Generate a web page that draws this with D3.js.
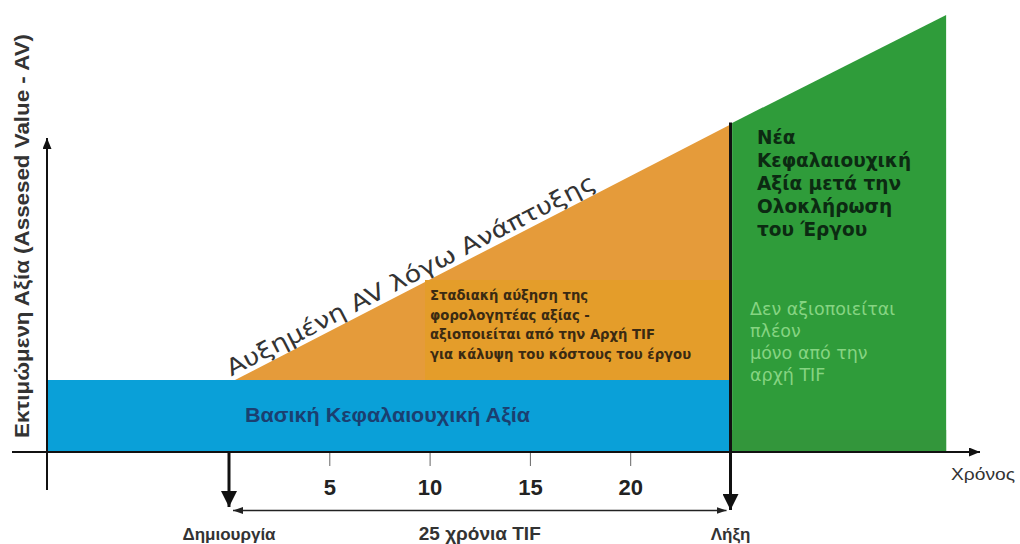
<!DOCTYPE html>
<html>
<head>
<meta charset="utf-8">
<script src="https://cdn.jsdelivr.net/npm/d3@7"></script>
<style>
	body { margin: 0; background: #fff; }
	svg { display: block; }
</style>
</head>
<body>
<script>
// --- data ---
// TIF period: creation (year 0) to expiry (year 25)
var tifYears = [0, 25];
var tickYears = [5, 10, 15, 20];
// base assessed value (frozen during TIF)
var baseYears = [-9.07, 25];
var baseValue = 20;
// increment during TIF
var growthYears = [0.3, 25];
var growthValues = [20, 91];
// new assessed value after the project ends
var afterYears = [25.08, 35.75];
var afterValues = [91.4, 121.4];

// texts
var yTitle = "Εκτιμώμενη Αξία (Assesed Value - AV)";
var xTitle = "Χρόνος";
var slopeLabel = "Αυξημένη AV λόγω Ανάπτυξης";
var baseLabel = "Βασική Κεφαλαιουχική Αξία";
var growthLines = ["Σταδιακή αύξηση της", "φορολογητέας αξίας -", "αξιοποιείται από την Αρχή TIF", "για κάλυψη του κόστους του έργου"];
var afterTitleLines = ["Νέα", "Κεφαλαιουχική", "Αξία μετά την", "Ολοκλήρωση", "του Έργου"];
var afterNoteLines = ["Δεν αξιοποιείται", "πλέον", "μόνο από την", "αρχή TIF"];
var startLabel = "Δημιουργία";
var endLabel = "Λήξη";
var spanLabel = "25 χρόνια TIF";

var width = 1020, height = 544;

var x = d3.scaleLinear().domain([0, 25]).range([229, 730.5]);
var y = d3.scaleLinear().domain([0, 100]).range([452, 92]);

var svg = d3.select("body").append("svg")
	.attr("width", width)
	.attr("height", height);

// arrow heads
var defs = svg.append("defs");
function marker(id, w, h, color){
	defs.append("marker")
		.attr("id", id)
		.attr("markerUnits", "userSpaceOnUse")
		.attr("viewBox", "0 0 " + w + " " + h)
		.attr("refX", w)
		.attr("refY", h / 2)
		.attr("markerWidth", w)
		.attr("markerHeight", h)
		.attr("orient", "auto-start-reverse")
		.append("path")
		.attr("d", "M0,0L" + w + "," + (h / 2) + "L0," + h + "Z")
		.attr("fill", color);
}
marker("axisHead", 11, 9, "#111");
marker("bigHead", 16, 16, "#111");
marker("smallHead", 10, 7, "#222");

// base value block (blue)
svg.append("rect")
	.attr("x", x(baseYears[0]))
	.attr("y", y(baseValue))
	.attr("width", x(baseYears[1]) - x(baseYears[0]))
	.attr("height", y(0) - y(baseValue))
	.attr("fill", "#0aa0d8");

// increment during TIF (orange)
var growthData = growthYears.map(function(d, i){ return {year: d, value: growthValues[i]}; });
var growthArea = d3.area()
	.x(function(d){ return x(d.year); })
	.y0(y(baseValue))
	.y1(function(d){ return y(d.value); });
svg.append("path")
	.datum(growthData)
	.attr("d", growthArea)
	.attr("fill", "#e59b3a");
// slightly different tone behind the text
svg.append("rect")
	.attr("x", 425)
	.attr("y", 280)
	.attr("width", x(25) - 425)
	.attr("height", y(baseValue) - 280)
	.attr("fill", "#e49d2a");

// after the project (green)
var afterData = afterYears.map(function(d, i){ return {year: d, value: afterValues[i]}; });
var afterArea = d3.area()
	.x(function(d){ return x(d.year); })
	.y0(y(0))
	.y1(function(d){ return y(d.value); });
svg.append("path")
	.datum(afterData)
	.attr("d", afterArea)
	.attr("fill", "#2f9c3a");
svg.append("rect")
	.attr("x", x(afterYears[0]))
	.attr("y", 430)
	.attr("width", x(afterYears[1]) - x(afterYears[0]))
	.attr("height", y(0) - 430)
	.attr("fill", "#33963b");

// x axis ticks
var xAxis = d3.axisBottom(x)
	.tickValues(tickYears)
	.tickSize(14)
	.tickPadding(13)
	.tickFormat(d3.format("d"));
var gx = svg.append("g")
	.attr("transform", "translate(0," + y(0) + ")")
	.call(xAxis);
gx.select(".domain").remove();
gx.selectAll(".tick line").attr("stroke", "#666").attr("stroke-width", 1);
gx.selectAll(".tick text")
	.attr("fill", "#222")
	.style("font-family", "Liberation Sans, Arial, sans-serif")
	.style("font-weight", "bold")
	.style("font-size", "22px");

// axis lines
svg.append("line")
	.attr("x1", 12).attr("y1", y(0))
	.attr("x2", 980).attr("y2", y(0))
	.attr("stroke", "#111").attr("stroke-width", 2)
	.attr("marker-end", "url(#axisHead)");
svg.append("line")
	.attr("x1", 47).attr("y1", 490)
	.attr("x2", 47).attr("y2", 138)
	.attr("stroke", "#111").attr("stroke-width", 2)
	.attr("marker-end", "url(#axisHead)");

// creation / expiry arrows
svg.append("line")
	.attr("x1", x(tifYears[0])).attr("y1", y(0))
	.attr("x2", x(tifYears[0])).attr("y2", 507)
	.attr("stroke", "#111").attr("stroke-width", 3)
	.attr("marker-end", "url(#bigHead)");
svg.append("line")
	.attr("x1", x(tifYears[1])).attr("y1", y(growthValues[1]) - 2)
	.attr("x2", x(tifYears[1])).attr("y2", 510)
	.attr("stroke", "#111").attr("stroke-width", 3)
	.attr("marker-end", "url(#bigHead)");
// span arrow
svg.append("line")
	.attr("x1", x(tifYears[0]) + 4).attr("y1", 510.5)
	.attr("x2", x(tifYears[1]) - 4).attr("y2", 510.5)
	.attr("stroke", "#222").attr("stroke-width", 1.5)
	.attr("marker-start", "url(#smallHead)")
	.attr("marker-end", "url(#smallHead)");

// texts
var sans = "DejaVu Sans, Verdana, sans-serif";
var arial = "Liberation Sans, Arial, sans-serif";
var narrow = "Liberation Sans Narrow, Liberation Sans, Arial, sans-serif";

svg.append("text")
	.attr("transform", "translate(29,236) rotate(-90)")
	.attr("text-anchor", "middle")
	.attr("textLength", 404)
	.attr("lengthAdjust", "spacingAndGlyphs")
	.attr("fill", "#333")
	.style("font-family", arial)
	.style("font-weight", "bold")
	.style("font-size", "21px")
	.text(yTitle);

svg.append("text")
	.attr("x", 983).attr("y", 480)
	.attr("text-anchor", "middle")
	.attr("textLength", 64)
	.attr("lengthAdjust", "spacingAndGlyphs")
	.attr("fill", "#333")
	.style("font-family", narrow)
	.style("font-size", "16px")
	.text(xTitle);

// label along the growth slope
var x0 = x(growthYears[0]), y0 = y(growthValues[0]);
var ang = Math.atan2(y(growthValues[1]) - y0, x(growthYears[1]) - x0) * 180 / Math.PI;
svg.append("text")
	.attr("transform", "translate(" + (x0 - 2) + "," + y0 + ") rotate(" + ang + ")")
	.attr("dy", -4)
	.attr("textLength", 412)
	.attr("lengthAdjust", "spacingAndGlyphs")
	.attr("fill", "#333")
	.style("font-family", sans)
	.style("font-size", "23px")
	.text(slopeLabel);

svg.append("text")
	.attr("x", 245).attr("y", 422)
	.attr("textLength", 285)
	.attr("lengthAdjust", "spacingAndGlyphs")
	.attr("fill", "#1b3f70")
	.style("font-family", arial)
	.style("font-weight", "bold")
	.style("font-size", "21px")
	.text(baseLabel);

function block(lines, px, py, lh, size, weight, color, family){
	var t = svg.append("text")
		.attr("fill", color)
		.style("font-family", family)
		.style("font-weight", weight)
		.style("font-size", size + "px");
	t.selectAll("tspan")
		.data(lines)
		.enter().append("tspan")
		.attr("x", px)
		.attr("y", function(d, i){ return py + i * lh; })
		.text(function(d){ return d; });
	return t;
}
block(growthLines, 430, 300, 19.7, 13.2, "bold", "#3a2a12", sans);
block(afterTitleLines, 757, 144, 23, 18.5, "bold", "#0c2a12", sans);
block(afterNoteLines, 750, 315, 22, 17.5, "normal", "#86d482", sans);

svg.append("text")
	.attr("x", x(tifYears[0])).attr("y", 540)
	.attr("text-anchor", "middle")
	.attr("fill", "#333")
	.style("font-family", narrow)
	.style("font-weight", "bold")
	.style("font-size", "17px")
	.text(startLabel);
svg.append("text")
	.attr("x", x(tifYears[1])).attr("y", 540)
	.attr("text-anchor", "middle")
	.attr("fill", "#333")
	.style("font-family", narrow)
	.style("font-weight", "bold")
	.style("font-size", "17px")
	.text(endLabel);
svg.append("text")
	.attr("x", x((tifYears[0] + tifYears[1]) / 2)).attr("y", 540)
	.attr("text-anchor", "middle")
	.attr("fill", "#333")
	.style("font-family", arial)
	.style("font-weight", "bold")
	.style("font-size", "19px")
	.text(spanLabel);
</script>
</body>
</html>
